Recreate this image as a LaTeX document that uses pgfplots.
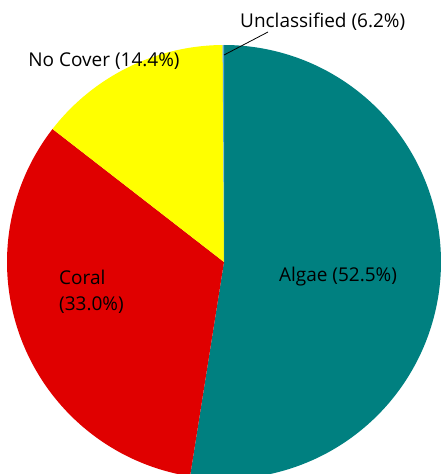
\documentclass[border=0pt]{standalone}
\usepackage{pgfplots}
\pgfplotsset{compat=1.18}
\usepackage{fontspec}
\setmainfont{Open Sans}
\definecolor{algae}{HTML}{008080}
\definecolor{coral}{HTML}{E00000}
\definecolor{nocover}{HTML}{FFFF00}
\definecolor{unclass}{HTML}{5AA6D6}
\begin{document}
\begin{tikzpicture}
\useasboundingbox (0,0) rectangle (441pt,474pt);
\begin{axis}[at={(0,0)},anchor=south west,width=441pt,height=474pt,scale only axis,
  xmin=0,xmax=441,ymin=0,ymax=474,hide axis,clip=true]
% values (percent): Algae 52.5, Coral 33.0, No Cover 14.4, Unclassified 0.1
% start at 90 deg, clockwise
\addplot[fill=algae,draw=none,domain=-99:90,samples=200,variable=\t]
  ({224+217*cos(\t)},{212+217*sin(\t)}) -- (224,212) -- cycle;
\addplot[fill=coral,draw=none,domain=-217.8:-99,samples=150,variable=\t]
  ({224+217*cos(\t)},{212+217*sin(\t)}) -- (224,212) -- cycle;
\addplot[fill=nocover,draw=none,domain=-269.64:-217.8,samples=80,variable=\t]
  ({224+217*cos(\t)},{212+217*sin(\t)}) -- (224,212) -- cycle;
\addplot[fill=unclass,draw=none,domain=-270:-269.64,samples=5,variable=\t]
  ({224+217*cos(\t)},{212+217*sin(\t)}) -- (224,212) -- cycle;
\draw[black,line width=0.8pt] (224,419) -- (268,442);
\node[anchor=west,inner sep=0pt,font=\fontsize{19}{22}\selectfont] at (240,452) {Unclassified (6.2\%)};
\node[inner sep=0pt,font=\fontsize{19}{22}\selectfont] at (104,413) {No Cover (14.4\%)};
\node[anchor=west,inner sep=0pt,align=left,font=\fontsize{19}{26}\selectfont] at (59,182) {Coral\\(33.0\%)};
\node[inner sep=0pt,font=\fontsize{19}{22}\selectfont] at (338,197) {Algae (52.5\%)};
\end{axis}
\end{tikzpicture}
\end{document}
